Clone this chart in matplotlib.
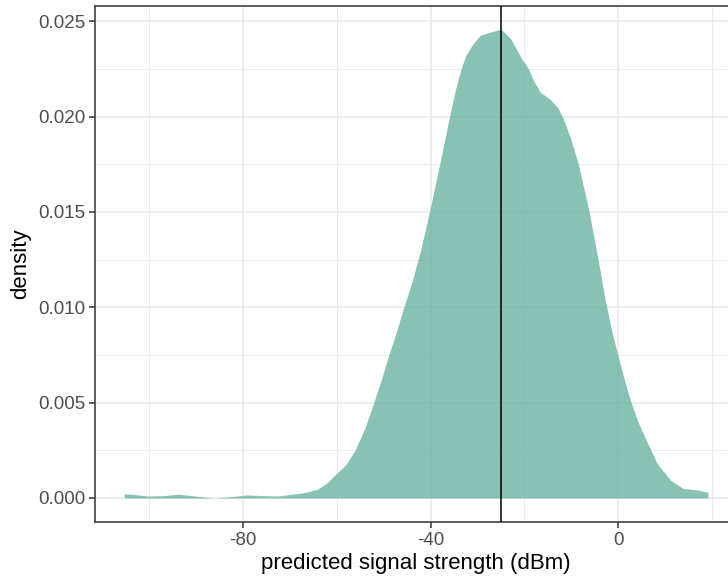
import numpy as np
import matplotlib.pyplot as plt
from matplotlib.ticker import MultipleLocator, FixedLocator

# density curve (predicted signal strength in dBm)
signal_dbm = [-105.3, -103.0, -100.2, -97.0, -93.8, -90.0, -86.0, -82.0, -79.0,
              -75.5, -72.6, -70.0, -68.0, -66.0, -64.0, -62.0, -60.2, -58.0,
              -56.0, -54.0, -52.1, -50.5, -48.9, -47.3, -45.7, -44.0, -42.1,
              -40.0, -37.9, -35.7, -34.6, -33.5, -32.5, -31.0, -29.4, -27.0, -25.0,
              -23.0, -22.3, -20.5, -19.1, -18.1, -16.6, -14.5, -13.0, -11.9,
              -10.2, -8.5, -6.2, -4.3, -2.8, -1.3, 0.0, 1.9, 4.0,
              6.2, 8.3, 11.1, 13.8, 16.8, 19.1]
density = [0.00022, 0.00018, 0.00010, 0.00012, 0.00020, 0.00010, 0.00000, 0.00008, 0.00016,
           0.00012, 0.00010, 0.00018, 0.00024, 0.00033, 0.00047, 0.00080, 0.00125, 0.00175,
           0.00255, 0.00365, 0.00500, 0.00620, 0.00750, 0.00870, 0.01000, 0.01130, 0.01300,
           0.01525, 0.01770, 0.02030, 0.02150, 0.02250, 0.02320, 0.02380, 0.02427, 0.02445, 0.02458,
           0.02410, 0.02380, 0.02300, 0.02250, 0.02190, 0.02128, 0.02090, 0.02050, 0.02000,
           0.01890, 0.01750, 0.01500, 0.01250, 0.01040, 0.00865, 0.00740, 0.00566, 0.00410,
           0.00290, 0.00180, 0.00094, 0.00050, 0.00042, 0.00030]
median_dbm = -25.0

x_major = [-80, -40, 0]
x_minor = [-100, -60, -20, 20]

plt.rcParams['font.family'] = ['Liberation Sans', 'DejaVu Sans']
plt.rcParams['axes.unicode_minus'] = False

fig = plt.figure(figsize=(7.28, 5.85), dpi=100)
# panel runs past the right edge of the image, as in the original
ax = fig.add_axes([95 / 728, 63 / 585, 642 / 728, 516 / 585])

x = np.array(signal_dbm)
y = np.array(density)
ax.fill_between(np.r_[x[0], x, x[-1]], np.r_[0, y, 0], 0,
                color='#69b3a2', alpha=0.8, linewidth=0, zorder=2)
ax.axvline(median_dbm, color='black', linewidth=1.1, zorder=3)

ax.set_xlim(-111.5, 25.3)
ax.set_ylim(-0.00126, 0.0258)

ax.xaxis.set_major_locator(FixedLocator(x_major))
ax.xaxis.set_minor_locator(FixedLocator(x_minor))
ax.yaxis.set_major_locator(MultipleLocator(0.005))
ax.yaxis.set_minor_locator(MultipleLocator(0.0025))
ax.yaxis.set_major_formatter(lambda v, p: f'{v:.3f}')

ax.grid(which='major', color='#EBEBEB', linewidth=1.2, zorder=0)
ax.grid(which='minor', color='#EBEBEB', linewidth=0.7, zorder=0)
ax.set_axisbelow(True)

for s in ax.spines.values():
    s.set_color('#333333')
    s.set_linewidth(1.1)

ax.tick_params(which='major', length=4, width=1.1, color='#333333',
               labelcolor='#4D4D4D', labelsize=13.5, pad=3)
ax.tick_params(which='minor', length=0)

ax.set_xlabel('predicted signal strength (dBm)', fontsize=16, labelpad=3)
ax.set_ylabel('density', fontsize=16, labelpad=5)

fig.savefig('out.png', dpi=100)
